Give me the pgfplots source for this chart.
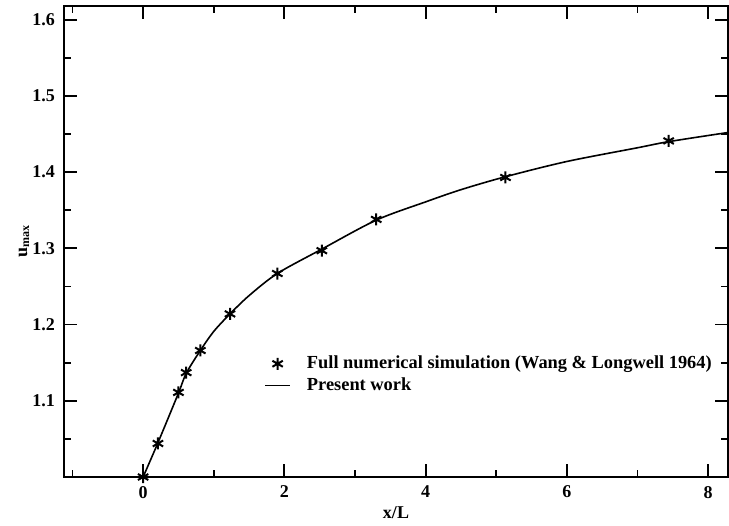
\documentclass[border=0pt]{standalone}
\usepackage{fontspec}
\setmainfont{Liberation Serif}
\usepackage{pgfplots}
\pgfplotsset{compat=1.18}

% Full numerical simulation (Wang & Longwell 1964)
\pgfplotstableread{
x     u
0.00  1.000
0.21  1.044
0.50  1.111
0.61  1.137
0.81  1.166
1.23  1.214
1.90  1.267
2.53  1.297
3.30  1.338
5.13  1.393
7.44  1.441
}\simdata

% Present work
\pgfplotstableread{
x     u
0.00  1.000
0.21  1.045
0.50  1.110
0.61  1.136
0.81  1.166
1.00  1.191
1.23  1.214
1.50  1.238
1.90  1.267
2.53  1.299
3.30  1.337
4.00  1.361
4.50  1.377
5.13  1.394
6.00  1.414
7.00  1.432
7.44  1.440
8.28  1.452
}\present

\begin{document}
\begin{tikzpicture}
\begin{axis}[
  scale only axis,
  width=332pt, height=235.5pt,
  xmin=-1.12, xmax=8.28,
  ymin=1.0, ymax=1.618,
  xtick={0,2,4,6,8},
  minor xtick={-1,1,3,5,7},
  ytick={1.1,1.2,1.3,1.4,1.5,1.6},
  minor ytick={1.05,1.15,1.25,1.35,1.45,1.55},
  yticklabel style={/pgf/number format/fixed,/pgf/number format/precision=1,/pgf/number format/fixed zerofill},
  /pgf/number format/assume math mode=true,
  tick align=inside,
  tick pos=both,
  major tick length=6.5pt,
  minor tick length=3.5pt,
  every tick/.style={black, line width=0.9pt},
  axis line style={line width=1pt},
  tick label style={font=\fontsize{9}{10}\selectfont\bfseries},
  xticklabel style={yshift=-1pt},
  yticklabel style={xshift=-1pt},
  xlabel={x/L},
  ylabel={u\textsubscript{max}},
  every axis x label/.style={at={(axis description cs:0.5,-0.0764)}, anchor=center,
    font=\fontsize{9}{10}\selectfont\bfseries},
  every axis y label/.style={at={(axis description cs:-0.06,0.5)}, anchor=center, rotate=90,
    font=\fontsize{9}{10}\selectfont\bfseries},
  legend style={at={(0.292,0.275)}, anchor=north west, draw=none, fill=none,
    font=\fontsize{9.2}{10}\selectfont\bfseries, row sep=-1pt,
    nodes={inner sep=2pt},
    /tikz/every odd column/.append style={column sep=6pt}},
  legend cell align=left,
  legend image code/.code={\draw[mark repeat=2,mark phase=2,#1] plot coordinates {(0cm,0cm) (0.22cm,0cm) (0.44cm,0cm)};},
]
\addplot[only marks, mark=asterisk, mark size=3pt, line width=1pt, black] table[x=x,y=u] {\simdata};
\addlegendentry{Full numerical simulation (Wang \& Longwell 1964)}
\addplot[black, line width=0.8pt, smooth, no marks] table[x=x,y=u] {\present};
\addlegendentry{Present work}
\end{axis}
\path (current axis.south west) ++(-32pt,-23pt) (current axis.north east) ++(0.5pt,3pt);
\end{tikzpicture}
\end{document}
